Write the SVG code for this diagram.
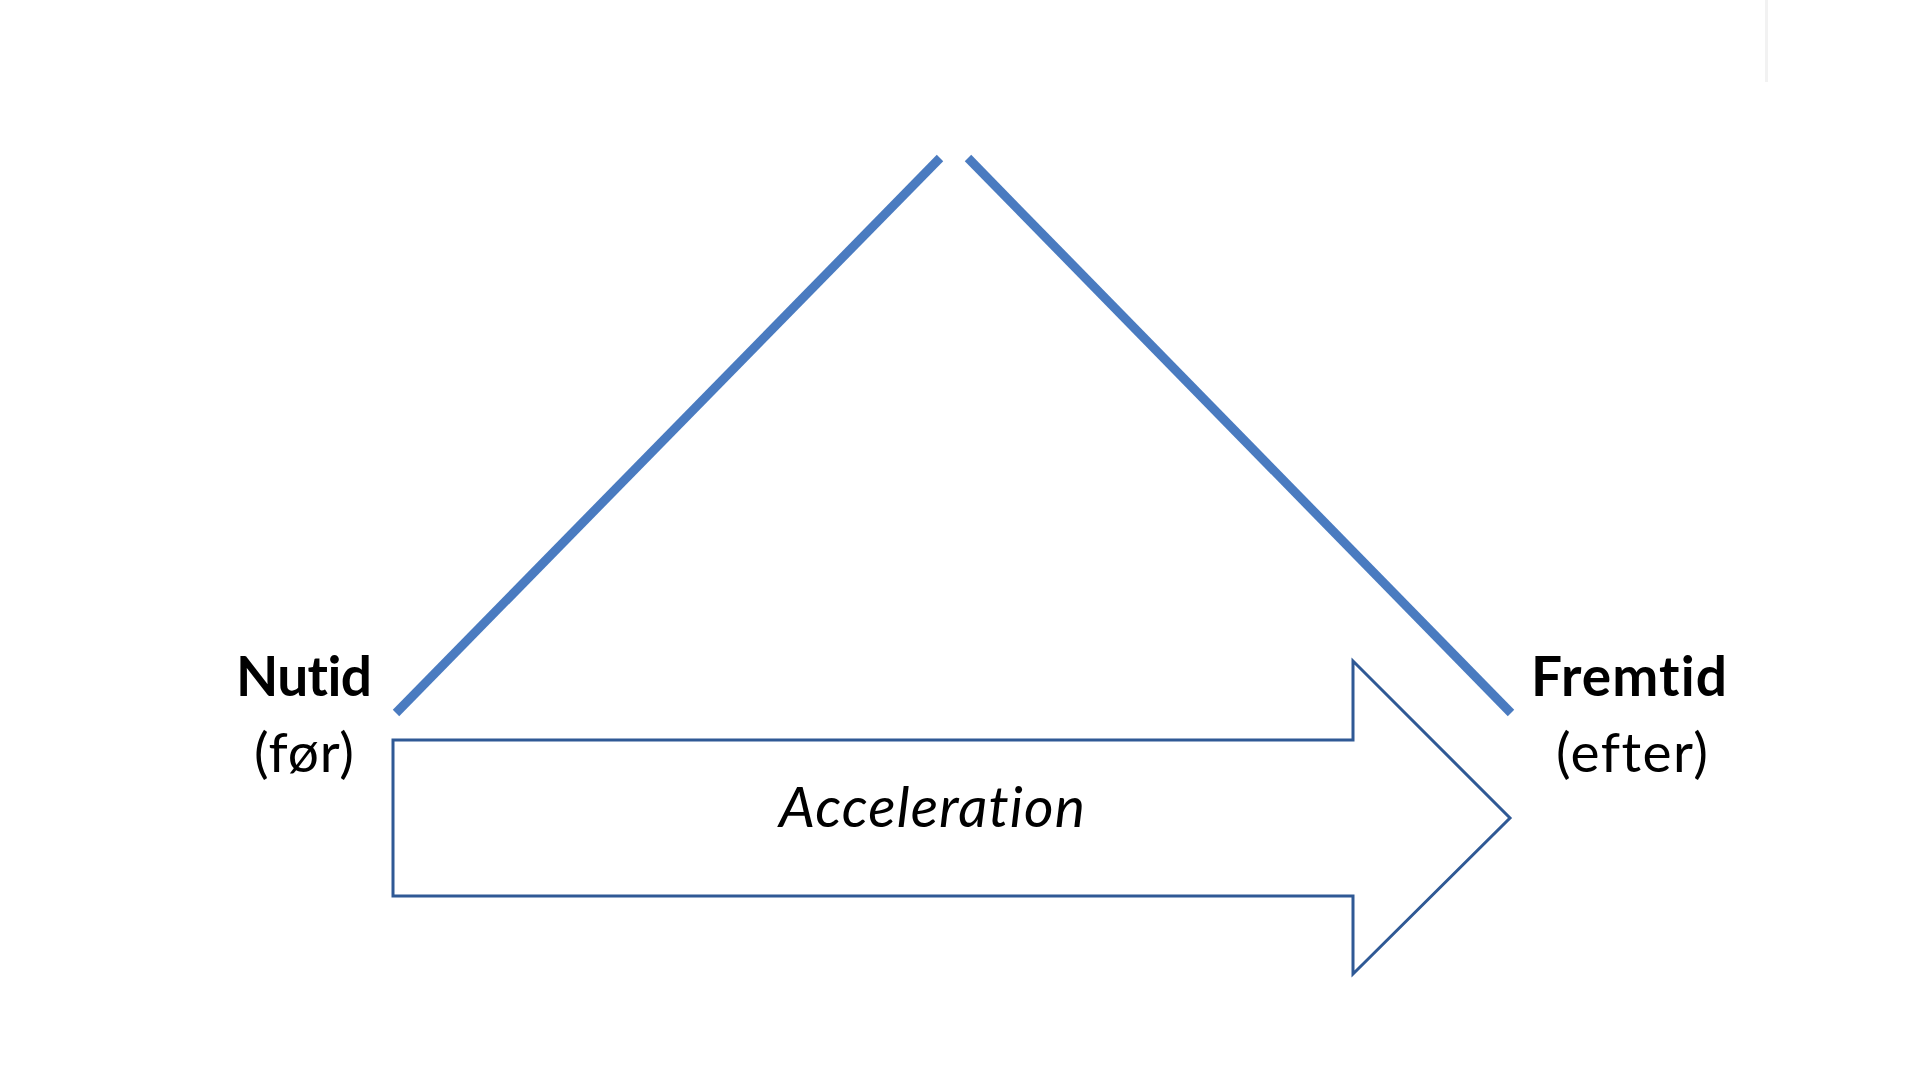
<svg xmlns="http://www.w3.org/2000/svg" width="1920" height="1081" viewBox="0 0 1920 1081">
<style>
.axis{stroke:#4a7bc0;stroke-width:9;fill:none}
.arrow{fill:#ffffff;stroke:#2f5995;stroke-width:3;stroke-linejoin:miter}
.lbl{font-family:Lato,"Open Sans","Liberation Sans",sans-serif;fill:#000;text-anchor:middle;font-variant-ligatures:none;font-feature-settings:"liga" 0}
.b{font-weight:bold;font-size:55px}
.r{font-size:55px}
.i{font-style:italic;font-size:57px}
</style>
<rect width="1920" height="1081" fill="#ffffff"/>
<rect x="1765" y="0" width="3" height="82" fill="#f2f2f2"/>
<g id="connectors">
<line class="axis" x1="396" y1="713" x2="940" y2="158"/>
<line class="axis" x1="968" y1="158" x2="1511" y2="713"/>
</g>
<g id="arrow">
<polygon class="arrow" points="393,740 1353,740 1353,661 1510,818 1353,974 1353,896 393,896"/>
<text class="lbl i" x="932" y="827" textLength="306">Acceleration</text>
</g>
<g id="nutid">
<text class="lbl b" x="304" y="696" textLength="136">Nutid</text>
<text class="lbl r" x="304" y="772" textLength="100">(før)</text>
</g>
<g id="fremtid">
<text class="lbl b" x="1629" y="696" textLength="196">Fremtid</text>
<text class="lbl r" x="1632" y="772" textLength="152">(efter)</text>
</g>
</svg>
